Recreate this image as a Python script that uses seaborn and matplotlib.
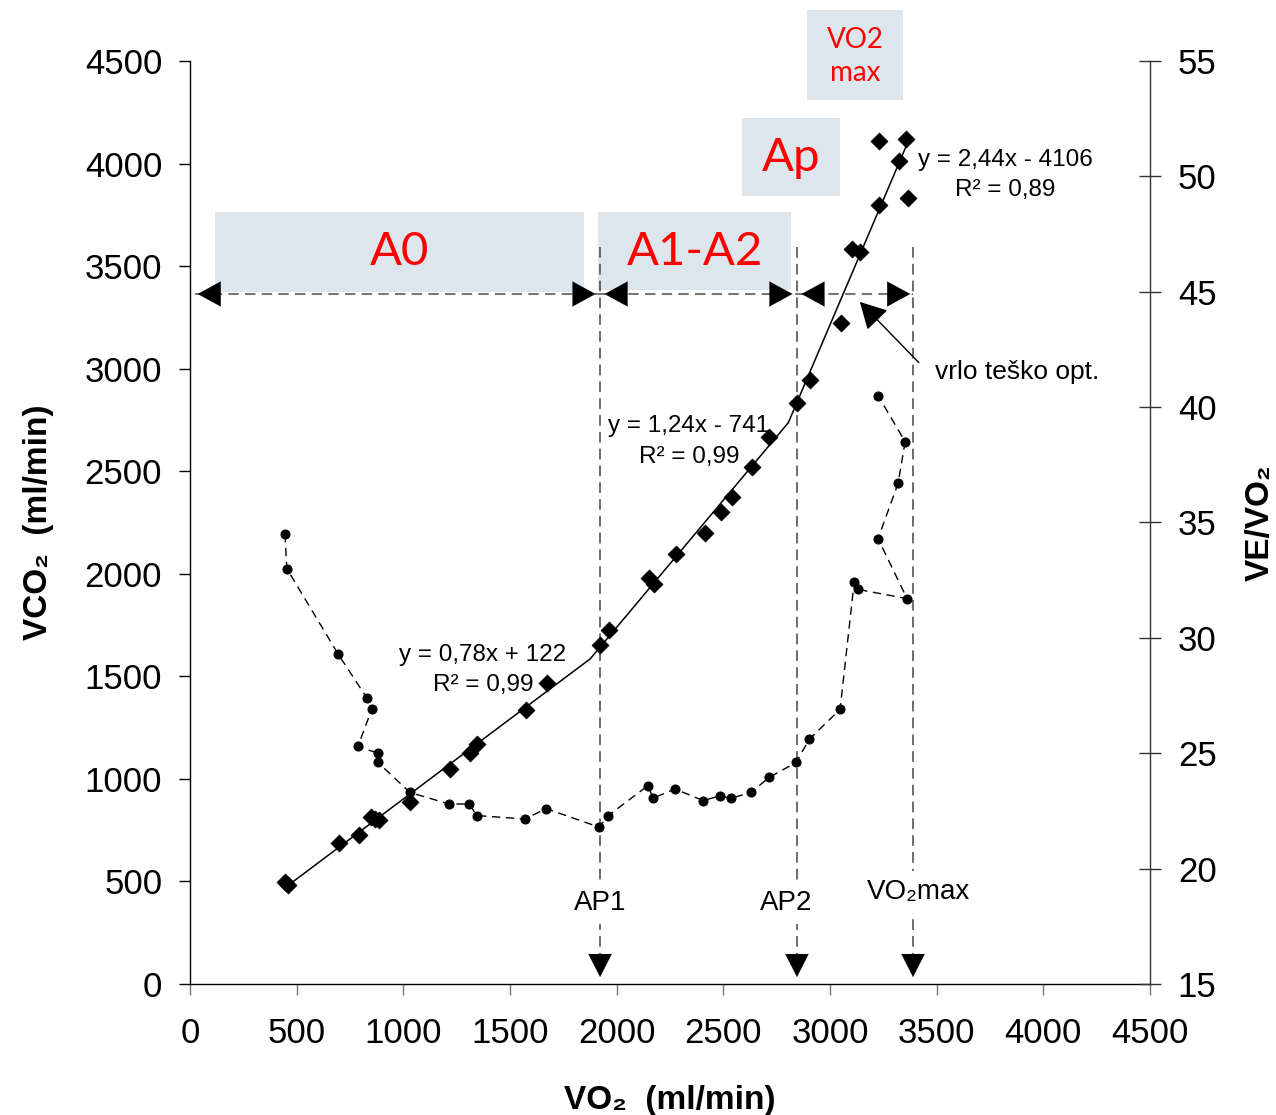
import matplotlib
matplotlib.use("Agg")
import matplotlib.pyplot as plt
from matplotlib.patches import Rectangle
import seaborn as sns
import numpy as np

# VCO2 vs VO2 measurements (diamonds), ml/min
vo2_pts = [445, 460, 698, 792, 849, 868, 886, 1031, 1219, 1313, 1345, 1575, 1673,
           1922, 1964, 2152, 2175, 2278, 2414, 2489, 2541, 2634, 2714, 2845, 2906,
           3052, 3103, 3141, 3230, 3366, 3323, 3230, 3356]
vco2_pts = [497, 483, 687, 726, 814, 805, 800, 887, 1048, 1126, 1170, 1336, 1467,
            1653, 1726, 1979, 1950, 2096, 2199, 2301, 2374, 2521, 2667, 2833, 2945,
            3223, 3584, 3569, 3798, 3832, 4013, 4110, 4120]

# VE/VO2 series (right axis), in recording order
ve_x = [445, 454, 694, 829, 852, 787, 881, 881, 1031, 1214, 1308, 1345, 1570, 1669,
        1917, 1961, 2147, 2170, 2273, 2405, 2484, 2536, 2630, 2714, 2841, 2902,
        3047, 3113, 3131, 3361, 3225, 3319, 3352, 3225]
ve_y = [34.5, 33.0, 29.3, 27.4, 26.9, 25.3, 25.0, 24.6, 23.3, 22.8, 22.8, 22.3, 22.15, 22.6,
        21.8, 22.3, 23.6, 23.05, 23.45, 22.95, 23.15, 23.05, 23.3, 23.95, 24.6, 25.6,
        26.9, 32.4, 32.1, 31.7, 34.3, 36.7, 38.5, 40.5]

# linear trendlines (slope, intercept) for the three zones
trend_slopes = [0.78, 1.24, 2.44]
trend_icpts = [122, -741, -4106]
trend_r2 = ["0,99", "0,99", "0,89"]
trend_eq = ["y = 0,78x + 122", "y = 1,24x - 741", "y = 2,44x - 4106"]
trend_start, trend_end = 445, 3360

# thresholds on VO2 axis
thr_names = ["AP1", "AP2", "VO₂max"]
thr_vo2 = [1922, 2845, 3389]

sns.set_style("ticks")
plt.rcParams['font.family'] = ['Liberation Sans', 'DejaVu Sans']
plt.rcParams['text.color'] = 'black'
plt.rcParams['axes.labelcolor'] = 'black'
plt.rcParams['xtick.color'] = 'black'
plt.rcParams['ytick.color'] = 'black'

fig = plt.figure(figsize=(12.76, 11.15), dpi=100)
ax = fig.add_axes([0.1489, 0.1175, 0.7524, 0.8278])
ax2 = ax.twinx()

# zone boxes
box_col = '#dce6ec'
boxes = [((117, 3374), 1730, 390, "A0", 980, 3569, 34),
         ((1912, 3384), 905, 380, "A1-A2", 2367, 3569, 34),
         ((2588, 3842), 459, 380, "Ap", 2817, 4027, 34)]
for (xy, w, h, txt, tx, ty, fs) in boxes:
    ax.add_patch(Rectangle(xy, w, h, facecolor=box_col, edgecolor='none', zorder=0, clip_on=False))
    ax.text(tx, ty, txt, color='red', fontsize=fs, ha='center', va='center',
            family=['Lato', 'DejaVu Sans'])
ax.add_patch(Rectangle((2892, 4310), 450, 439, facecolor=box_col, edgecolor='none',
                       zorder=0, clip_on=False))
ax.text(3117, 4600, "VO2", color='red', fontsize=20, ha='center', va='center',
        family=['Lato', 'DejaVu Sans'], clip_on=False)
ax.text(3117, 4440, "max", color='red', fontsize=20, ha='center', va='center',
        family=['Lato', 'DejaVu Sans'], clip_on=False)

# diamonds
sns.scatterplot(x=vo2_pts, y=vco2_pts, marker='D', s=75, color='black',
                edgecolor='black', linewidth=0.5, ax=ax, zorder=3)

# piecewise trendlines, breakpoints where neighbouring fits meet
breaks = [trend_start]
for i in range(len(trend_slopes) - 1):
    breaks.append((trend_icpts[i + 1] - trend_icpts[i]) / (trend_slopes[i] - trend_slopes[i + 1]))
breaks.append(trend_end)
for i in range(len(trend_slopes)):
    xs = np.array([breaks[i], breaks[i + 1]])
    sns.lineplot(x=xs, y=trend_slopes[i] * xs + trend_icpts[i], color='black',
                 linewidth=1.1, ax=ax, zorder=2)

eq_pos = [(1373, 1531), (2339, 2643), (3820, 3944)]
for (ex, ey), eq, r2 in zip(eq_pos, trend_eq, trend_r2):
    ax.text(ex, ey + 75, eq, fontsize=17.5, ha='center', va='center')
    ax.text(ex, ey - 75, "R² = " + r2, fontsize=17.5, ha='center', va='center')

# VE/VO2 on the right axis
sns.lineplot(x=ve_x, y=ve_y, sort=False, estimator=None, color='black', linewidth=1,
             linestyle=(0, (6, 4)), marker='o', markersize=6.5, markeredgecolor='black',
             ax=ax2)

# vertical threshold lines, labels and arrow heads
for name, xv in zip(thr_names, thr_vo2):
    ax.plot([xv, xv], [3593, 130], color='#444444', linewidth=1.1,
            linestyle=(0, (7, 4)), zorder=1)
    ly = 449 if name.startswith("VO") else 395
    lx = xv + 24 if name.startswith("VO") else xv
    if name == "AP2":
        lx = xv - 50
    ax.text(lx, ly, name, fontsize=20, ha='center', va='center',
            bbox=dict(facecolor='white', edgecolor='none', pad=6), zorder=4)
    ax.annotate('', xy=(xv, 20), xytext=(xv, 140),
                arrowprops=dict(arrowstyle='-|>,head_length=0.55,head_width=0.28',
                                mutation_scale=30, color='black', lw=0.1))

# horizontal zone arrows
h_y = 3364
ax.plot([23, thr_vo2[-1]], [h_y, h_y], color='#777777', linewidth=1.5,
        linestyle=(0, (5, 3)), zorder=1)
seg_ends = [(23, thr_vo2[0] - 8), (thr_vo2[0] + 8, thr_vo2[1] - 8),
            (thr_vo2[1] + 8, thr_vo2[2])]
for x0, x1 in seg_ends:
    ax.annotate('', xy=(x0, h_y), xytext=(x0 + 100, h_y),
                arrowprops=dict(arrowstyle='-|>,head_length=0.55,head_width=0.3',
                                mutation_scale=30, color='black', lw=0.1))
    ax.annotate('', xy=(x1, h_y), xytext=(x1 - 100, h_y),
                arrowprops=dict(arrowstyle='-|>,head_length=0.55,head_width=0.3',
                                mutation_scale=30, color='black', lw=0.1))

# "vrlo teško opt." pointer
ax.annotate('', xy=(3131, 3335), xytext=(3425, 3020),
            arrowprops=dict(arrowstyle='-|>,head_length=0.55,head_width=0.3',
                            mutation_scale=30, color='black', lw=1))
ax.text(3492, 2984, "vrlo teško opt.", fontsize=19, ha='left', va='center')

# axes styling
ax.set_xlim(0, 4500)
ax.set_ylim(0, 4500)
ax2.set_ylim(15, 55)
ax.set_xticks(range(0, 4501, 500))
ax.set_yticks(range(0, 4501, 500))
ax2.set_yticks(range(15, 56, 5))
ax.spines['top'].set_visible(False)
ax.spines['right'].set_visible(False)
ax2.spines['top'].set_visible(False)
ax2.spines['left'].set_visible(False)
ax2.spines['bottom'].set_visible(False)
for sp in ['left', 'bottom']:
    ax.spines[sp].set_linewidth(1)
    ax.spines[sp].set_color('black')
ax2.spines['right'].set_linewidth(1)
ax2.spines['right'].set_color('#333333')

ax.tick_params(axis='y', direction='out', length=8, width=1, pad=12, labelsize=25)
ax.tick_params(axis='x', direction='out', length=8, width=1, color='#777777',
               pad=16, labelsize=25)
ax2.tick_params(axis='y', direction='inout', length=16, width=1, color='#333333',
                pad=12, labelsize=25)

ax.set_xlabel("VO₂  (ml/min)", fontsize=24, fontweight='bold', labelpad=25)
ax.set_ylabel("VCO₂  (ml/min)", fontsize=24, fontweight='bold', labelpad=22)
ax2.set_ylabel("VE/VO₂", fontsize=24, fontweight='bold', labelpad=20)

fig.savefig("out.png", dpi=100, facecolor='white')
